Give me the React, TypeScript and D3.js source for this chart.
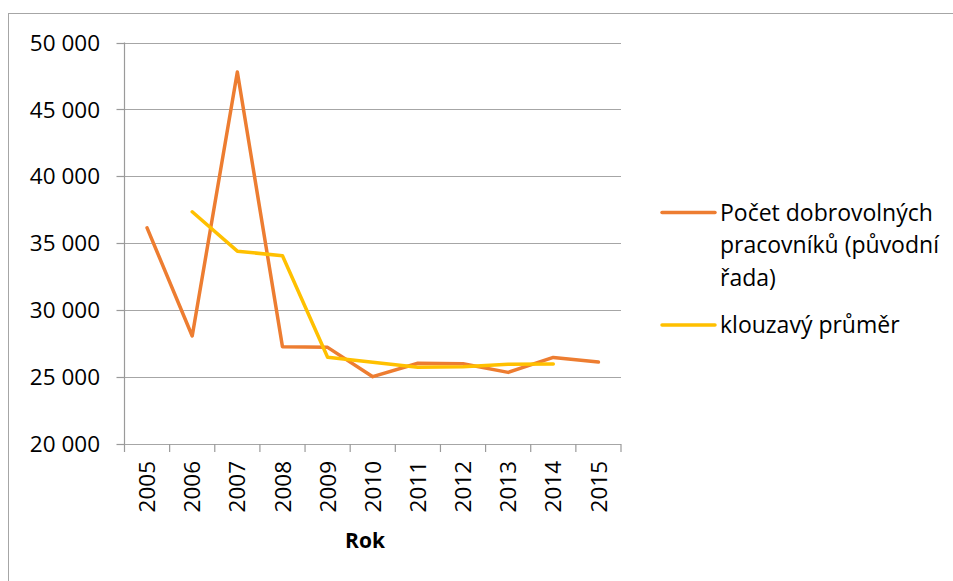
import { useEffect, useRef } from 'react';
import * as d3 from 'd3';

const years = ['2005', '2006', '2007', '2008', '2009', '2010', '2011', '2012', '2013', '2014', '2015'];
// Počet dobrovolných pracovníků (původní řada)
const original = [36150, 28070, 47800, 27270, 27220, 25030, 26030, 26000, 25350, 26470, 26120];
// klouzavý průměr (2006–2014)
const movingAvg = [null, 37350, 34410, 34060, 26480, 26100, 25730, 25780, 25950, 25980, null];
const yTicks = [20000, 25000, 30000, 35000, 40000, 45000, 50000];

const W = 953;
const H = 581;
const FONT = '"Open Sans", "Noto Sans", sans-serif';

export default function App() {
  const svgRef = useRef<SVGSVGElement>(null);

  useEffect(() => {
    if (!svgRef.current) return;
    const svg = d3.select(svgRef.current);
    svg.selectAll('*').remove();

    const left = 124.5;
    const right = 621;
    const top = 42.5;
    const bottom = 444;

    const x = d3.scaleBand<string>().domain(years).range([left, right]);
    const y = d3.scaleLinear().domain([20000, 50000]).range([bottom, top]);
    const fmt = (v: number) => d3.format(',')(v).replace(/,/g, ' ');

    // outer chart frame (runs off the page at right/bottom)
    svg.append('rect')
      .attr('x', 8.5).attr('y', 13.5)
      .attr('width', 1200).attr('height', 1200)
      .attr('fill', 'none').attr('stroke', '#a6a6a6').attr('stroke-width', 1);

    // gridlines
    svg.append('g')
      .selectAll('line')
      .data(yTicks)
      .join('line')
      .attr('x1', left).attr('x2', right)
      .attr('y1', d => Math.round(y(d)) + 0.5).attr('y2', d => Math.round(y(d)) + 0.5)
      .attr('stroke', '#a6a6a6').attr('stroke-width', 1.2);

    // y axis
    const yAxis = svg.append('g');
    yAxis.append('line')
      .attr('x1', left).attr('x2', left).attr('y1', top).attr('y2', bottom)
      .attr('stroke', '#9a9a9a').attr('stroke-width', 1.2);
    yAxis.selectAll('line.tick')
      .data(yTicks)
      .join('line')
      .attr('class', 'tick')
      .attr('x1', left - 8).attr('x2', left)
      .attr('y1', d => Math.round(y(d)) + 0.5).attr('y2', d => Math.round(y(d)) + 0.5)
      .attr('stroke', '#9a9a9a').attr('stroke-width', 1.2);
    yAxis.selectAll('text')
      .data(yTicks)
      .join('text')
      .attr('x', 100)
      .attr('y', d => y(d))
      .attr('dy', '0.36em')
      .attr('text-anchor', 'end')
      .attr('font-family', FONT)
      .attr('font-size', 22.5)
      .attr('fill', '#000')
      .text(d => fmt(d));

    // x axis
    const xAxis = svg.append('g');
    const bounds = [...years.map(d => x(d) as number), right];
    xAxis.selectAll('line')
      .data(bounds)
      .join('line')
      .attr('x1', d => d).attr('x2', d => d)
      .attr('y1', bottom).attr('y2', bottom + 8)
      .attr('stroke', '#9a9a9a').attr('stroke-width', 1.2);
    xAxis.selectAll('text')
      .data(years)
      .join('text')
      .attr('transform', d => `translate(${(x(d) as number) + x.bandwidth() / 2},${bottom + 17}) rotate(-90)`)
      .attr('dy', '0.36em')
      .attr('text-anchor', 'end')
      .attr('font-family', FONT)
      .attr('font-size', 22.5)
      .attr('fill', '#000')
      .text(d => d);

    svg.append('text')
      .attr('x', 365)
      .attr('y', 548)
      .attr('text-anchor', 'middle')
      .attr('font-family', FONT)
      .attr('font-size', 21)
      .attr('font-weight', 'bold')
      .attr('fill', '#000')
      .text('Rok');

    const cx = (d: string) => (x(d) as number) + x.bandwidth() / 2;

    const line = d3.line<number | null>()
      .defined(d => d != null)
      .x((_, i) => cx(years[i]))
      .y(d => y(d as number));

    svg.append('path')
      .datum(original)
      .attr('d', line)
      .attr('fill', 'none')
      .attr('stroke', '#ED7D31')
      .attr('stroke-width', 3.5)
      .attr('stroke-linejoin', 'round')
      .attr('stroke-linecap', 'round');

    svg.append('path')
      .datum(movingAvg)
      .attr('d', line)
      .attr('fill', 'none')
      .attr('stroke', '#FFC000')
      .attr('stroke-width', 3.5)
      .attr('stroke-linejoin', 'round')
      .attr('stroke-linecap', 'round');

    // legend
    const legend = [
      { color: '#ED7D31', lines: ['Počet dobrovolných', 'pracovníků (původní', 'řada)'], y: 212.5 },
      { color: '#FFC000', lines: ['klouzavý průměr'], y: 325 },
    ];
    legend.forEach(item => {
      svg.append('line')
        .attr('x1', 662).attr('x2', 715)
        .attr('y1', item.y).attr('y2', item.y)
        .attr('stroke', item.color).attr('stroke-width', 3.5)
        .attr('stroke-linecap', 'round');
      const t = svg.append('text')
        .attr('font-family', FONT)
        .attr('font-size', 23)
        .attr('fill', '#000');
      item.lines.forEach((s, i) => {
        t.append('tspan')
          .attr('x', 720)
          .attr('y', item.y + i * 32.5)
          .attr('dy', '0.36em')
          .text(s);
      });
    });
  }, []);

  return (
    <svg
      ref={svgRef}
      width={W}
      height={H}
      style={{ position: 'absolute', left: 0, top: 0, background: '#fff' }}
    />
  );
}
